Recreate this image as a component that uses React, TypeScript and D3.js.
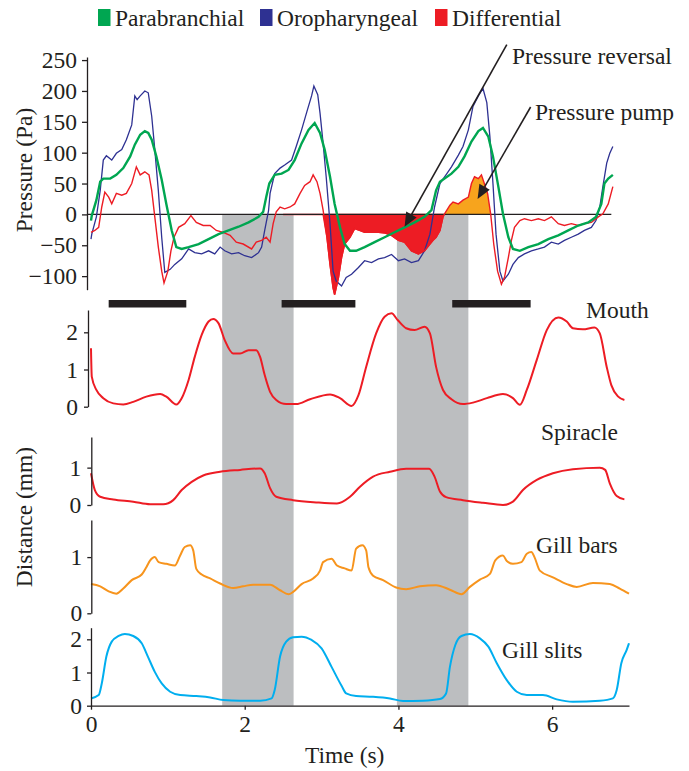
import * as d3 from 'd3';
import { useEffect, useRef } from 'react';

// pressure traces, [time (s), pressure (Pa)]
const parabranchial = [
  [0, -10], [0.01, -2], [0.07, 23], [0.12, 53], [0.16, 58], [0.25, 58], [0.33, 64], [0.42, 75], [0.51, 94],
  [0.57, 113], [0.64, 129], [0.7, 135], [0.745, 132], [0.79, 121], [0.85, 94], [0.92, 56], [0.98, 17],
  [1.05, -26], [1.11, -53], [1.18, -56], [1.27, -53], [1.4, -48], [1.53, -40], [1.66, -32], [1.79, -26],
  [1.92, -20], [2.05, -13], [2.18, -4], [2.24, 4], [2.28, 28], [2.32, 50], [2.39, 64], [2.48, 66], [2.57, 72],
  [2.65, 88], [2.74, 115], [2.83, 137], [2.91, 148], [2.98, 132], [3.04, 105], [3.11, 61], [3.17, 17],
  [3.24, -21], [3.3, -48], [3.37, -59], [3.45, -59], [3.56, -53], [3.69, -45], [3.82, -37], [3.95, -29],
  [4.08, -21], [4.21, -13], [4.34, -4], [4.43, 7], [4.49, 39], [4.54, 53], [4.6, 58], [4.69, 66], [4.78, 77],
  [4.86, 94], [4.95, 118], [5.04, 135], [5.1, 140], [5.17, 126], [5.23, 94], [5.3, 45], [5.36, 1],
  [5.43, -37], [5.49, -56], [5.58, -59], [5.69, -53], [5.82, -48], [5.95, -40], [6.08, -34], [6.21, -26],
  [6.34, -18], [6.47, -13], [6.57, -4], [6.64, 17], [6.68, 50], [6.73, 58], [6.79, 64]
];

const oropharyngeal = [
  [0, -40], [0.01, -32], [0.07, -4], [0.12, 39], [0.16, 88], [0.2, 95], [0.27, 88], [0.33, 99], [0.4, 105],
  [0.46, 121], [0.53, 145], [0.57, 192], [0.6, 186], [0.64, 192], [0.7, 200], [0.745, 197], [0.79, 159],
  [0.83, 105], [0.876, 39], [0.92, -37], [0.96, -94], [1.03, -89], [1.09, -81], [1.18, -72], [1.27, -56],
  [1.35, -62], [1.44, -64], [1.53, -59], [1.61, -64], [1.68, -53], [1.74, -59], [1.83, -64], [1.92, -62],
  [2.0, -67], [2.09, -70], [2.18, -62], [2.22, -53], [2.26, -26], [2.31, 6], [2.33, 34], [2.39, 66],
  [2.46, 75], [2.52, 80], [2.61, 88], [2.67, 110], [2.74, 137], [2.81, 167], [2.87, 192], [2.9, 208],
  [2.95, 194], [2.98, 164], [3.02, 115], [3.06, 61], [3.11, -15], [3.15, -92], [3.19, -108], [3.26, -116],
  [3.32, -102], [3.39, -97], [3.48, -86], [3.56, -75], [3.65, -78], [3.74, -72], [3.82, -70], [3.91, -65],
  [4.0, -75], [4.08, -72], [4.17, -78], [4.26, -75], [4.34, -59], [4.41, -32], [4.47, 12], [4.54, 50],
  [4.63, 66], [4.69, 77], [4.78, 96], [4.84, 110], [4.91, 137], [4.97, 175], [5.04, 192], [5.1, 204],
  [5.15, 181], [5.19, 126], [5.23, 50], [5.27, -32], [5.32, -92], [5.36, -108], [5.43, -97], [5.49, -81],
  [5.56, -70], [5.64, -64], [5.73, -59], [5.82, -56], [5.9, -53], [5.99, -45], [6.08, -48], [6.16, -42],
  [6.25, -37], [6.34, -32], [6.42, -26], [6.51, -21], [6.57, -10], [6.62, 12], [6.66, 45], [6.71, 83],
  [6.75, 99], [6.79, 110]
];

const differential = [
  [0, -29], [0.05, -26], [0.1, -21], [0.14, 12], [0.18, 36], [0.23, 28], [0.27, 17], [0.33, 34], [0.4, 31],
  [0.46, 34], [0.53, 50], [0.59, 77], [0.64, 64], [0.7, 69], [0.755, 64], [0.79, 39], [0.83, -4],
  [0.876, -53], [0.92, -92], [0.95, -111], [1.0, -92], [1.04, -59], [1.08, -37], [1.14, -21], [1.22, -15],
  [1.3, -2], [1.37, -13], [1.46, -18], [1.55, -18], [1.63, -26], [1.72, -29], [1.81, -34], [1.89, -45],
  [1.98, -48], [2.09, -56], [2.15, -45], [2.22, -42], [2.28, -37], [2.33, -45], [2.37, -15], [2.41, 4],
  [2.46, 12], [2.52, 9], [2.59, 12], [2.65, 17], [2.72, 34], [2.78, 47], [2.85, 53], [2.89, 64], [2.94, 53],
  [2.98, 34], [3.02, 7], [3.07, -37], [3.11, -81], [3.15, -119], [3.17, -130], [3.22, -102], [3.26, -70],
  [3.3, -48], [3.37, -37], [3.43, -23], [3.5, -26], [3.56, -29], [3.65, -29], [3.74, -29], [3.82, -30],
  [3.91, -34], [4.0, -42], [4.08, -45], [4.17, -59], [4.26, -64], [4.34, -59], [4.41, -48], [4.45, -42],
  [4.49, -37], [4.54, -26], [4.58, -4], [4.6, 1], [4.67, 15], [4.71, 20], [4.78, 17], [4.84, 23], [4.91, 28],
  [4.95, 50], [4.99, 61], [5.04, 58], [5.08, 64], [5.11, 53], [5.16, 34], [5.2, 1], [5.24, -48], [5.29, -92],
  [5.34, -113], [5.38, -102], [5.43, -70], [5.47, -42], [5.51, -21], [5.58, -10], [5.64, -7], [5.73, -10],
  [5.82, -7], [5.9, -10], [5.99, -4], [6.08, -15], [6.16, -18], [6.25, -15], [6.34, -18], [6.42, -15],
  [6.51, -13], [6.6, -4], [6.66, 1], [6.73, 17], [6.79, 45]
];

// distances, [time (s), mm]
const mouth = [
  [0, 1.57], [0.01, 0.81], [0.07, 0.45], [0.16, 0.23], [0.29, 0.09], [0.42, 0.06], [0.55, 0.13], [0.72, 0.27],
  [0.9, 0.34], [0.98, 0.27], [1.11, 0.06], [1.18, 0.23], [1.27, 0.72], [1.35, 1.34], [1.44, 1.93], [1.53, 2.29],
  [1.59, 2.36], [1.66, 2.24], [1.74, 1.79], [1.85, 1.43], [1.94, 1.43], [2.05, 1.52], [2.15, 1.52], [2.2, 1.34],
  [2.26, 0.85], [2.33, 0.4], [2.41, 0.18], [2.54, 0.07], [2.67, 0.07], [2.85, 0.2], [3.11, 0.33], [3.24, 0.23],
  [3.39, 0.02], [3.48, 0.31], [3.58, 1.07], [3.71, 1.97], [3.82, 2.42], [3.91, 2.51], [3.99, 2.33], [4.1, 2.11],
  [4.21, 2.06], [4.34, 2.15], [4.41, 1.97], [4.49, 1.07], [4.58, 0.45], [4.69, 0.2], [4.84, 0.07], [4.97, 0.11],
  [5.15, 0.23], [5.36, 0.34], [5.49, 0.23], [5.58, 0.05], [5.67, 0.45], [5.8, 1.26], [5.93, 2.06], [6.08, 2.4],
  [6.19, 2.29], [6.27, 2.11], [6.4, 2.08], [6.55, 2.13], [6.62, 1.97], [6.71, 1.07], [6.77, 0.58], [6.86, 0.27],
  [6.94, 0.18]
];

const spiracle = [
  [0, 0.85], [0.05, 0.4], [0.12, 0.22], [0.29, 0.15], [0.55, 0.09], [0.77, 0.02], [0.94, 0.02], [1.07, 0.13],
  [1.18, 0.4], [1.31, 0.62], [1.46, 0.79], [1.68, 0.89], [1.94, 0.94], [2.2, 0.98], [2.26, 0.85], [2.33, 0.45],
  [2.41, 0.22], [2.63, 0.13], [2.93, 0.07], [3.2, 0.04], [3.37, 0.22], [3.5, 0.49], [3.67, 0.76], [3.89, 0.89],
  [4.1, 0.97], [4.4, 0.97], [4.47, 0.76], [4.54, 0.36], [4.62, 0.21], [4.84, 0.13], [5.1, 0.06], [5.36, 0.0],
  [5.49, 0.09], [5.62, 0.4], [5.8, 0.67], [6.01, 0.85], [6.27, 0.96], [6.62, 1.0], [6.69, 0.94], [6.75, 0.58],
  [6.84, 0.24], [6.94, 0.15]
];

const gillBars = [
  [0, 0.52], [0.12, 0.48], [0.23, 0.39], [0.33, 0.35], [0.42, 0.44], [0.53, 0.59], [0.66, 0.69], [0.72, 0.82],
  [0.77, 0.94], [0.83, 1.0], [0.88, 0.91], [0.98, 0.88], [1.09, 0.85], [1.16, 1.03], [1.22, 1.18], [1.29, 1.21],
  [1.33, 1.12], [1.37, 0.79], [1.44, 0.69], [1.55, 0.62], [1.68, 0.53], [1.85, 0.45], [1.98, 0.48], [2.11, 0.51],
  [2.33, 0.51], [2.46, 0.41], [2.57, 0.34], [2.63, 0.38], [2.74, 0.52], [2.89, 0.62], [2.98, 0.76], [3.02, 0.91],
  [3.13, 0.97], [3.2, 0.85], [3.3, 0.8], [3.39, 0.76], [3.45, 1.15], [3.53, 1.21], [3.58, 1.12], [3.61, 0.82],
  [3.67, 0.67], [3.8, 0.59], [3.97, 0.46], [4.1, 0.43], [4.28, 0.48], [4.49, 0.5], [4.67, 0.42], [4.82, 0.34],
  [4.93, 0.47], [5.06, 0.6], [5.19, 0.7], [5.26, 0.94], [5.36, 1.03], [5.41, 0.93], [5.49, 0.88], [5.6, 0.91],
  [5.67, 1.06], [5.73, 1.09], [5.77, 1.0], [5.84, 0.76], [6.01, 0.64], [6.19, 0.52], [6.32, 0.47], [6.53, 0.54],
  [6.75, 0.52], [6.88, 0.44], [7.0, 0.35]
];

const gillSlits = [
  [0, 0.22], [0.1, 0.32], [0.14, 0.67], [0.2, 1.48], [0.27, 1.93], [0.36, 2.1], [0.44, 2.16], [0.55, 2.1],
  [0.66, 1.88], [0.74, 1.48], [0.83, 1.02], [0.92, 0.67], [1.03, 0.42], [1.16, 0.32], [1.37, 0.29], [1.55, 0.25],
  [1.72, 0.17], [1.94, 0.15], [2.2, 0.15], [2.35, 0.22], [2.39, 0.47], [2.46, 1.48], [2.54, 1.93], [2.63, 2.06],
  [2.74, 2.08], [2.87, 1.98], [3.0, 1.73], [3.13, 1.17], [3.26, 0.6], [3.32, 0.37], [3.45, 0.29], [3.67, 0.27],
  [3.89, 0.22], [4.06, 0.14], [4.32, 0.15], [4.54, 0.2], [4.62, 0.37], [4.67, 1.17], [4.74, 1.83], [4.82, 2.1],
  [4.93, 2.16], [5.06, 2.03], [5.17, 1.78], [5.28, 1.28], [5.41, 0.77], [5.54, 0.42], [5.67, 0.32], [5.88, 0.32],
  [6.06, 0.19], [6.27, 0.12], [6.62, 0.15], [6.79, 0.22], [6.84, 0.47], [6.9, 1.28], [6.97, 1.68], [7.0, 1.88]
];

const pressureTicks = [-100, -50, 0, 50, 100, 150, 200, 250];
const mouthTicks = [0, 1, 2];
const spiracleTicks = [0, 1];
const gillBarTicks = [0, 1];
const gillSlitTicks = [0, 1, 2];
const timeTicks = [0, 2, 4, 6];

// shaded periods and black bars (s)
const shaded = [[1.707, 2.636], [3.98, 4.91]];
const blackBars = [[0.23, 1.24], [2.48, 3.44], [4.7, 5.72]];

const legendItems = ['Parabranchial', 'Oropharyngeal', 'Differential'];

const INK = '#231f20';
const GREEN = '#00a651';
const NAVY = '#2e3192';
const RED = '#ed1c24';
const ORANGE = '#f7941d';
const PUMP = '#f7a41d';
const CYAN = '#00aeef';
const GREY = '#bcbec0';

function App() {
  const ref = useRef(null);

  useEffect(() => {
    const svg = d3.select(ref.current);
    svg.selectAll('*').remove();

    const x = d3.scaleLinear().domain([0, 7]).range([91, 629]);
    const yP = d3.scaleLinear().domain([-122, 255]).range([289.7, 57]);
    const yMouth = d3.scaleLinear().domain([0, 2.6]).range([406.7, 310]);
    const ySpir = d3.scaleLinear().domain([0, 1.82]).range([505, 437]);
    const yBars = d3.scaleLinear().domain([0, 1.66]).range([613.3, 520]);
    const ySlits = d3.scaleLinear().domain([0, 2.35]).range([705.7, 627.7]);
    const fmt = d3.format('d');

    // grey periods, from the zero line down to the time axis
    shaded.forEach(([a, b]) => {
      svg.append('rect')
        .attr('x', x(a)).attr('y', yP(0))
        .attr('width', x(b) - x(a)).attr('height', ySlits(0) - yP(0))
        .attr('fill', GREY);
    });

    blackBars.forEach(([a, b]) => {
      svg.append('rect')
        .attr('x', x(a)).attr('y', 300)
        .attr('width', x(b) - x(a)).attr('height', 7.5)
        .attr('fill', INK);
    });

    // differential fills
    const defs = svg.append('defs');
    defs.append('clipPath').attr('id', 'clipRev')
      .append('rect').attr('x', x(2.5)).attr('y', 0).attr('width', x(4.6) - x(2.5)).attr('height', 771);
    defs.append('clipPath').attr('id', 'clipPump')
      .append('rect').attr('x', x(4.59)).attr('y', 0).attr('width', x(5.3) - x(4.59)).attr('height', 771);

    const negArea = d3.area()
      .x(d => x(d[0])).y0(yP(0)).y1(d => yP(Math.min(d[1], 0)));
    const posArea = d3.area()
      .x(d => x(d[0])).y0(yP(0)).y1(d => yP(Math.max(d[1], 0)));

    svg.append('path').datum(differential)
      .attr('d', negArea).attr('fill', RED).attr('stroke', RED).attr('stroke-width', 1.5)
      .attr('clip-path', 'url(#clipRev)');
    svg.append('path').datum(differential)
      .attr('d', posArea).attr('fill', PUMP)
      .attr('clip-path', 'url(#clipPump)');

    // zero line
    svg.append('line')
      .attr('x1', 87).attr('x2', x(6.77))
      .attr('y1', yP(0)).attr('y2', yP(0))
      .attr('stroke', INK).attr('stroke-width', 1.3);

    const pLine = d3.line().x(d => x(d[0])).y(d => yP(d[1]));
    svg.append('path').datum(oropharyngeal).attr('d', pLine)
      .attr('fill', 'none').attr('stroke', NAVY).attr('stroke-width', 1.3);
    svg.append('path').datum(differential).attr('d', pLine)
      .attr('fill', 'none').attr('stroke', RED).attr('stroke-width', 1.4);
    svg.append('path').datum(parabranchial).attr('d', pLine)
      .attr('fill', 'none').attr('stroke', GREEN).attr('stroke-width', 2.4);

    const smooth = (y) => d3.line().x(d => x(d[0])).y(d => y(d[1])).curve(d3.curveMonotoneX);
    svg.append('path').datum(mouth).attr('d', smooth(yMouth))
      .attr('fill', 'none').attr('stroke', RED).attr('stroke-width', 2);
    svg.append('path').datum(spiracle).attr('d', smooth(ySpir))
      .attr('fill', 'none').attr('stroke', RED).attr('stroke-width', 2);
    svg.append('path').datum(gillBars).attr('d', smooth(yBars))
      .attr('fill', 'none').attr('stroke', ORANGE).attr('stroke-width', 2);
    svg.append('path').datum(gillSlits).attr('d', smooth(ySlits))
      .attr('fill', 'none').attr('stroke', CYAN).attr('stroke-width', 2);

    // axes
    const styleAxis = (g) => {
      g.attr('color', INK).attr('font-family', null).attr('font-size', null);
      g.select('.domain').attr('stroke-width', 1.3);
      g.selectAll('.tick line').attr('stroke-width', 1.3);
      g.selectAll('.tick text').attr('fill', INK);
    };
    const leftAxis = (scale, ticks, xPos, size, pad) => {
      svg.append('g')
        .attr('transform', `translate(${xPos},0)`)
        .call(d3.axisLeft(scale).tickValues(ticks).tickFormat(fmt)
          .tickSize(size).tickSizeOuter(0).tickPadding(pad))
        .call(styleAxis);
    };
    leftAxis(yP, pressureTicks, 87, 5, 5);
    leftAxis(yMouth, mouthTicks, 88, 4, 6);
    leftAxis(ySpir, spiracleTicks, 91.3, 4, 6);
    leftAxis(yBars, gillBarTicks, 91.3, 4, 5);
    leftAxis(ySlits, gillSlitTicks, 91, 4, 5);

    svg.append('g')
      .attr('transform', `translate(0,${ySlits(0)})`)
      .call(d3.axisBottom(x).tickValues(timeTicks).tickFormat(fmt)
        .tickSize(4).tickSizeOuter(0).tickPadding(6))
      .call(styleAxis);

    // axis titles
    svg.append('text').attr('transform', 'translate(32,170) rotate(-90)')
      .attr('text-anchor', 'middle').attr('fill', INK).text('Pressure (Pa)');
    svg.append('text').attr('transform', 'translate(32,517) rotate(-90)')
      .attr('text-anchor', 'middle').attr('fill', INK).text('Distance (mm)');
    svg.append('text').attr('x', 305).attr('y', 763).attr('fill', INK).text('Time (s)');

    // panel labels
    const labels = [['Mouth', 586, 318], ['Spiracle', 541, 440], ['Gill bars', 536, 553], ['Gill slits', 502, 658]];
    labels.forEach(([t, lx, ly]) => {
      svg.append('text').attr('x', lx).attr('y', ly).attr('fill', INK).text(t);
    });

    // legend
    const legendColors = [GREEN, NAVY, RED];
    const legendX = [98, 260, 435];
    legendItems.forEach((name, i) => {
      svg.append('rect').attr('x', legendX[i]).attr('y', 9).attr('width', 12.5).attr('height', 17)
        .attr('fill', legendColors[i]);
      svg.append('text').attr('x', legendX[i] + 17).attr('y', 26).attr('fill', INK).text(name);
    });

    // annotations with arrows
    const arrow = (t0, v0, t1, v1) => {
      const sx = x(t0), sy = yP(v0), tx = x(t1), ty = yP(v1);
      const len = Math.hypot(tx - sx, ty - sy);
      const ux = (tx - sx) / len, uy = (ty - sy) / len;
      const L = 14, w = 6;
      const bx = tx - ux * L, by = ty - uy * L;
      svg.append('line').attr('x1', sx).attr('y1', sy).attr('x2', bx).attr('y2', by)
        .attr('stroke', INK).attr('stroke-width', 1.6);
      svg.append('path')
        .attr('d', `M${tx},${ty}L${bx - uy * w},${by + ux * w}L${bx + uy * w},${by - ux * w}Z`)
        .attr('fill', INK);
    };
    arrow(5.41, 275, 4.08, -20);
    arrow(5.72, 174, 5.03, 25);
    svg.append('text').attr('x', 512).attr('y', 64).attr('fill', INK).text('Pressure reversal');
    svg.append('text').attr('x', 535).attr('y', 119.5).attr('fill', INK).text('Pressure pump');
  }, []);

  return (
    <svg
      ref={ref}
      width={689}
      height={771}
      style={{ position: 'absolute', left: 0, top: 0, background: '#fff' }}
      fontFamily="'Liberation Serif', 'Times New Roman', Times, serif"
      fontSize={23.5}
    />
  );
}

export default App;
